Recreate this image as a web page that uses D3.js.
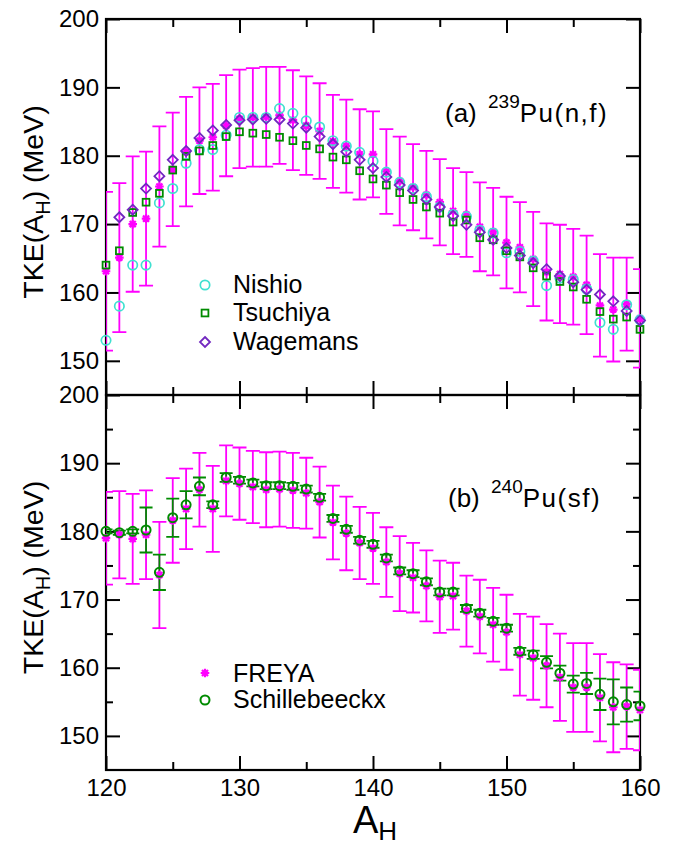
<!DOCTYPE html>
<html>
<head>
    <meta charset="utf-8" />
    <title>TKE vs A_H</title>
    <style>
        body { margin: 0; background: #fff; }
        text { font-family: "Liberation Sans", Arial, sans-serif; }
    </style>
    <script type="text/javascript" src="https://cdn.jsdelivr.net/npm/d3@7/dist/d3.min.js"></script>
</head>
<body>
    <div id="svg"></div>

    <script type="text/javascript">
        // heavy fragment mass numbers
        var massH = [120, 121, 122, 123, 124, 125, 126, 127, 128, 129,
                     130, 131, 132, 133, 134, 135, 136, 137, 138, 139,
                     140, 141, 142, 143, 144, 145, 146, 147, 148, 149,
                     150, 151, 152, 153, 154, 155, 156, 157, 158, 159, 160];

        var xTicks = [120, 130, 140, 150, 160];
        var yTicks = [150, 160, 170, 180, 190, 200];

        // (a) 239Pu(n,f)
        var freyaA = [163.1, 165.1, 170.0, 170.8, 175.5, 178.0, 180.6, 182.2, 182.7, 184.4,
                      185.4, 185.6, 185.7, 185.9, 185.2, 184.4, 183.6, 182.1, 181.4, 180.2,
                      180.2, 177.7, 176.3, 175.4, 174.3, 173.2, 171.9, 171.4, 169.6, 168.9,
                      167.3, 166.6, 164.9, 163.0, 162.7, 162.3, 161.1, 158.1, 157.5, 158.3, 156.2];
        var freyaAErr = [11.6, 10.9, 9.9, 9.8, 8.8, 8.3, 8.0, 7.8, 7.8, 7.4,
                         7.2, 7.2, 7.3, 7.1, 7.3, 7.2, 7.0, 6.8, 6.8, 6.6,
                         6.3, 6.2, 6.5, 6.3, 6.4, 6.3, 6.3, 6.2, 6.5, 6.4,
                         6.7, 6.6, 6.9, 7.1, 7.2, 7.0, 7.2, 7.5, 7.6, 6.8, 7.2];
        var nishio = [153.0, 158.0, 164.0, 164.0, 173.1, 175.2, 178.9, 180.9, 180.9, 183.0,
                      185.6, 185.6, 185.6, 186.9, 186.2, 185.1, 184.2, 182.2, 181.4, 180.5,
                      179.2, 177.6, 176.1, 175.2, 174.0, 172.5, 171.4, 171.1, 169.1, 168.7,
                      165.8, 166.0, 164.6, 161.0, 162.1, 161.9, 160.5, 155.6, 154.6, 158.2, 156.0];
        var tsuchiya = [164.0, 166.1, 171.7, 173.2, 174.5, 177.9, 179.9, 180.7, 181.5, 182.8,
                        183.5, 183.3, 183.1, 182.7, 182.2, 181.5, 181.0, 179.8, 179.4, 177.8,
                        176.6, 175.7, 174.6, 173.6, 172.5, 171.6, 170.3, 170.6, 168.0, 167.7,
                        166.1, 165.2, 163.6, 162.4, 161.6, 160.8, 159.0, 157.2, 156.1, 156.4, 154.6];
        var wagemans = [null, 171.0, 172.1, 175.2, 177.0, 179.4, 180.7, 182.6, 183.7, 184.5,
                        185.2, 185.3, 185.4, 185.3, 184.7, 184.1, 182.8, 181.7, 180.6, 179.4,
                        178.2, 176.9, 175.7, 174.9, 173.6, 172.5, 171.2, 169.9, 168.8, 167.7,
                        166.5, 165.4, 164.3, 163.4, 162.4, 161.5, 160.4, 159.7, 158.7, 157.3, 155.9];

        // (b) 240Pu(sf)
        var freyaB = [179.0, 179.5, 178.9, 179.5, 173.6, 181.6, 183.3, 186.1, 183.3, 187.4,
                      187.0, 186.5, 186.1, 186.2, 186.0, 185.6, 184.3, 181.3, 179.7, 178.3,
                      177.5, 175.5, 173.8, 173.2, 172.0, 170.4, 170.5, 168.3, 167.5, 166.3,
                      165.2, 161.9, 161.4, 160.3, 158.6, 157.1, 157.1, 155.6, 154.2, 154.3, 153.8];
        var freyaBErr = [6.8, 6.4, 6.6, 6.5, 7.8, 6.2, 5.9, 5.4, 6.3, 5.2,
                         5.3, 5.3, 5.5, 5.5, 5.5, 5.2, 5.2, 5.4, 5.4, 5.3,
                         5.2, 5.1, 5.5, 5.1, 5.2, 5.3, 4.9, 5.2, 5.4, 5.4,
                         5.5, 6.0, 6.1, 6.1, 6.4, 6.5, 6.5, 6.4, 6.6, 6.2, 5.9];
        var schillebeeckx = [180.0, 179.8, 180.0, 180.2, 174.0, 182.0, 183.9, 186.6, 183.9, 187.9,
                             187.5, 187.1, 186.7, 186.7, 186.6, 186.2, 185.0, 181.9, 180.3, 178.7,
                             178.1, 176.1, 174.2, 173.8, 172.6, 171.1, 171.1, 168.7, 168.0, 166.8,
                             165.8, 162.4, 161.9, 160.8, 159.2, 157.6, 157.7, 156.1, 155.0, 154.6, 154.4];
        var schillebeeckxErr = [0.3, 0.3, 0.3, 3.3, 2.6, 2.8, 2.0, 1.3, 0.5, 0.65,
                                0.5, 0.5, 0.5, 0.5, 0.5, 0.5, 0.5, 0.5, 0.5, 0.5,
                                0.5, 0.5, 0.5, 0.5, 0.5, 0.5, 0.5, 0.5, 0.5, 0.5,
                                0.5, 0.5, 0.6, 0.9, 1.1, 1.25, 1.55, 2.3, 3.3, 2.5, 2.1];

        var width = 676,
            height = 846,
            left = 106,
            right = 640;

        var magenta = '#ff00ff',
            turquoise = '#40e0d0',
            green = '#008b00',
            indigo = '#7228c0';

        var svg = d3.select('#svg')
            .append('svg')
            .attr('width', width)
            .attr('height', height);

        var xScale = d3.scaleLinear()
            .domain([120, 160])
            .range([left, right]);

        var minorX = [125, 135, 145, 155];

        function pts(vals, errs) {
            var out = [];
            massH.forEach(function(a, i) {
                if (vals[i] != null) out.push({ a: a, v: vals[i], e: errs ? errs[i] : 0 });
            });
            return out;
        }

        function asterisk(g, data, yScale) {
            var r = 4.3, q = r * Math.SQRT1_2;
            g.selectAll(null).data(data).enter().append('path')
                .attr('transform', d => 'translate(' + xScale(d.a) + ',' + yScale(d.v) + ')')
                .attr('d', 'M0,' + -r + 'V' + r + 'M' + -r + ',0H' + r +
                           'M' + -q + ',' + -q + 'L' + q + ',' + q + 'M' + -q + ',' + q + 'L' + q + ',' + -q)
                .attr('stroke', magenta)
                .attr('stroke-width', 2.2)
                .attr('fill', 'none');
        }

        function errorBars(g, data, yScale, color, cap, sw) {
            g.selectAll(null).data(data).enter().append('path')
                .attr('d', function(d) {
                    var x = xScale(d.a), y0 = yScale(d.v - d.e), y1 = yScale(d.v + d.e);
                    return 'M' + x + ',' + y0 + 'V' + y1 +
                        'M' + (x - cap) + ',' + y0 + 'H' + (x + cap) +
                        'M' + (x - cap) + ',' + y1 + 'H' + (x + cap);
                })
                .attr('stroke', color)
                .attr('stroke-width', sw)
                .attr('fill', 'none');
        }

        function panel(id, top, bottom, showMinorY, showXLabels) {
            var yScale = d3.scaleLinear().domain([145, 200]).range([bottom, top]);
            var g = svg.append('g');

            svg.append('clipPath').attr('id', 'clip' + id)
                .append('rect')
                .attr('x', left).attr('y', top)
                .attr('width', right - left).attr('height', bottom - top);

            var axes = g.append('g');
            var fontSize = 24;

            var yLeft = axes.append('g')
                .attr('transform', 'translate(' + left + ',0)')
                .call(d3.axisLeft(yScale).tickValues(yTicks)
                    .tickSize(-14).tickPadding(7).tickFormat(d3.format('d')));
            yLeft.selectAll('text').attr('font-size', fontSize).attr('fill', '#000')
                .style('font-family', '"Liberation Sans", Arial, sans-serif');

            axes.append('g')
                .attr('transform', 'translate(' + right + ',0)')
                .call(d3.axisRight(yScale).tickValues(yTicks).tickSize(-14).tickFormat(''));

            if (showMinorY) {
                var mY = [195, 185, 175, 165, 155];
                axes.append('g').attr('transform', 'translate(' + left + ',0)')
                    .call(d3.axisLeft(yScale).tickValues(mY).tickSize(-7).tickFormat(''));
                axes.append('g').attr('transform', 'translate(' + right + ',0)')
                    .call(d3.axisRight(yScale).tickValues(mY).tickSize(-7).tickFormat(''));
            }

            axes.append('g').attr('transform', 'translate(0,' + top + ')')
                .call(d3.axisTop(xScale).tickValues(xTicks).tickSize(-14).tickFormat(''));
            axes.append('g').attr('transform', 'translate(0,' + top + ')')
                .call(d3.axisTop(xScale).tickValues(minorX).tickSize(-8).tickFormat(''));
            var xb = axes.append('g').attr('transform', 'translate(0,' + bottom + ')')
                .call(d3.axisBottom(xScale).tickValues(xTicks).tickSize(-14).tickPadding(9)
                    .tickFormat(showXLabels ? d3.format('d') : ''));
            xb.selectAll('text').attr('font-size', fontSize).attr('fill', '#000')
                .style('font-family', '"Liberation Sans", Arial, sans-serif');
            axes.append('g').attr('transform', 'translate(0,' + bottom + ')')
                .call(d3.axisBottom(xScale).tickValues(minorX).tickSize(-8).tickFormat(''));

            axes.selectAll('.domain').remove();
            axes.selectAll('.tick line').attr('stroke', '#000').attr('stroke-width', 2);

            g.append('rect')
                .attr('x', left).attr('y', top)
                .attr('width', right - left).attr('height', bottom - top)
                .attr('fill', 'none').attr('stroke', '#000').attr('stroke-width', 2.2);

            // y title
            var yt = g.append('text')
                .attr('transform', 'translate(43,' + ((top + bottom) / 2 - 5) + ') rotate(-90)')
                .attr('text-anchor', 'middle')
                .attr('font-size', 28.5);
            yt.append('tspan').text('TKE(A');
            yt.append('tspan').attr('font-size', 20).attr('dy', 7).text('H');
            yt.append('tspan').attr('dy', -7).text(') (MeV)');

            return { g: g, y: yScale };
        }

        // ---------- panel (a)
        var pa = panel('a', 19, 395, false, false);
        var dataA = pts(freyaA, freyaAErr);
        errorBars(pa.g.append('g').attr('clip-path', 'url(#clipa)'), dataA, pa.y, magenta, 7, 1.8);
        asterisk(pa.g.append('g'), dataA, pa.y);

        pa.g.append('g').selectAll('circle').data(pts(nishio)).enter().append('circle')
            .attr('cx', d => xScale(d.a)).attr('cy', d => pa.y(d.v)).attr('r', 4.7)
            .attr('fill', 'none').attr('stroke', turquoise).attr('stroke-width', 1.7);

        pa.g.append('g').selectAll('rect').data(pts(tsuchiya)).enter().append('rect')
            .attr('x', d => xScale(d.a) - 3.4).attr('y', d => pa.y(d.v) - 3.4)
            .attr('width', 6.8).attr('height', 6.8)
            .attr('fill', 'none').attr('stroke', green).attr('stroke-width', 1.8);

        pa.g.append('g').selectAll('path').data(pts(wagemans)).enter().append('path')
            .attr('transform', d => 'translate(' + xScale(d.a) + ',' + pa.y(d.v) + ')')
            .attr('d', 'M0,-5L5,0L0,5L-5,0Z')
            .attr('fill', 'none').attr('stroke', indigo).attr('stroke-width', 1.8);

        // legend (a)
        var legA = pa.g.append('g');
        legA.append('circle').attr('cx', 205).attr('cy', 285).attr('r', 4.7)
            .attr('fill', 'none').attr('stroke', turquoise).attr('stroke-width', 1.7);
        legA.append('rect').attr('x', 205 - 3.4).attr('y', 313 - 3.4).attr('width', 6.8).attr('height', 6.8)
            .attr('fill', 'none').attr('stroke', green).attr('stroke-width', 1.8);
        legA.append('path').attr('transform', 'translate(205,342)')
            .attr('d', 'M0,-5L5,0L0,5L-5,0Z')
            .attr('fill', 'none').attr('stroke', indigo).attr('stroke-width', 1.8);
        [['Nishio', 293], ['Tsuchiya', 321], ['Wagemans', 350]].forEach(function(l) {
            legA.append('text').attr('x', 233).attr('y', l[1]).attr('font-size', 25).text(l[0]);
        });

        var labA = pa.g.append('text').attr('x', 445).attr('y', 122).attr('font-size', 26);
        labA.append('tspan').text('(a) ');
        labA.append('tspan').attr('font-size', 19).attr('dy', -14).attr('dx', 4).text('239');
        labA.append('tspan').attr('dy', 14).attr('letter-spacing', 1.5).text('Pu(n,f)');

        // ---------- panel (b)
        var pb = panel('b', 395, 770, true, true);
        var dataFB = pts(freyaB, freyaBErr);
        var dataS = pts(schillebeeckx, schillebeeckxErr);
        errorBars(pb.g.append('g').attr('clip-path', 'url(#clipb)'), dataFB, pb.y, magenta, 7, 1.8);
        errorBars(pb.g.append('g').attr('clip-path', 'url(#clipb)'), dataS, pb.y, green, 6.5, 1.8);
        asterisk(pb.g.append('g'), dataFB, pb.y);
        pb.g.append('g').selectAll('circle').data(dataS).enter().append('circle')
            .attr('cx', d => xScale(d.a)).attr('cy', d => pb.y(d.v)).attr('r', 4.5)
            .attr('fill', 'none').attr('stroke', green).attr('stroke-width', 2);

        var legB = pb.g.append('g');
        asterisk(legB, [{ a: xScale.invert(205), v: pb.y.invert(673) }], pb.y);
        legB.append('circle').attr('cx', 205).attr('cy', 700).attr('r', 4.5)
            .attr('fill', 'none').attr('stroke', green).attr('stroke-width', 2);
        legB.append('text').attr('x', 233).attr('y', 682).attr('font-size', 25).text('FREYA');
        legB.append('text').attr('x', 233).attr('y', 708).attr('font-size', 25).text('Schillebeeckx');

        var labB = pb.g.append('text').attr('x', 448).attr('y', 507).attr('font-size', 26);
        labB.append('tspan').text('(b) ');
        labB.append('tspan').attr('font-size', 19).attr('dy', -14).attr('dx', 4).text('240');
        labB.append('tspan').attr('dy', 14).attr('letter-spacing', 1.5).text('Pu(sf)');

        // x title
        var xt = svg.append('text').attr('x', 353).attr('y', 833).attr('font-size', 38);
        xt.append('tspan').text('A');
        xt.append('tspan').attr('font-size', 26).attr('dy', 7).text('H');
    </script>
</body>
</html>
